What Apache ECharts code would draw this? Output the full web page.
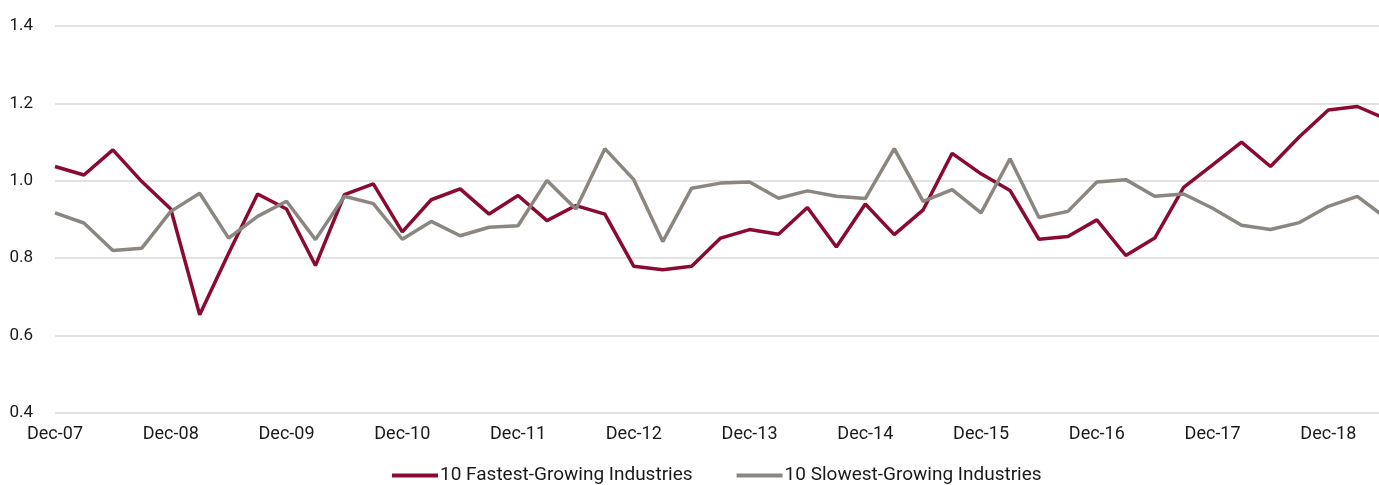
<!DOCTYPE html>
<html>
<head>
<meta charset="utf-8">
<script src="https://cdn.jsdelivr.net/npm/echarts@6/dist/echarts.min.js"></script>
<style>html,body{margin:0;padding:0;background:#fff}#c{width:1379px;height:485px}</style>
</head>
<body>
<div id="c"></div>
<script>
// Quarterly, starting Dec-07
var startYear = 7;
var fastest = [1.037,1.015,1.080,0.998,0.927,0.654,0.813,0.966,0.927,0.781,0.964,0.992,0.868,0.951,0.979,
  0.914,0.962,0.897,0.936,0.914,0.779,0.770,0.779,0.852,0.874,0.862,0.931,0.829,0.940,0.861,
  0.925,1.071,1.018,0.975,0.849,0.856,0.899,0.807,0.852,0.983,1.041,1.100,1.037,1.114,1.183,1.192,1.160];
var slowest = [0.917,0.891,0.820,0.826,0.921,0.968,0.852,0.908,0.947,0.848,0.960,0.941,0.849,0.895,0.858,
  0.880,0.884,1.001,0.927,1.083,1.003,0.843,0.981,0.994,0.997,0.955,0.974,0.960,0.954,1.083,
  0.947,0.977,0.917,1.057,0.905,0.921,0.997,1.003,0.960,0.966,0.929,0.885,0.874,0.892,0.934,0.960,0.903];
var seriesNames = ['10 Fastest-Growing Industries','10 Slowest-Growing Industries'];
var yTicks = [0.4,0.6,0.8,1.0,1.2,1.4];

function pairs(arr){ return arr.map(function(v,i){ return [i,v]; }); }
var font = 'Roboto';
var chart = echarts.init(document.getElementById('c'));
chart.setOption({
  animation:false,
  textStyle:{fontFamily:font},
  grid:{left:55,right:0,top:26,bottom:72},
  legend:{
    data:seriesNames, top:466, left:392, padding:0,
    icon:'rect', itemWidth:46, itemHeight:4, itemGap:44,
    textStyle:{fontFamily:font,fontSize:19,color:'#1a1a1a',padding:[0,0,0,-3]}
  },
  xAxis:{
    type:'value', min:0, max:45.75, interval:4,
    axisLine:{show:false}, axisTick:{show:false}, splitLine:{show:false},
    axisLabel:{
      fontFamily:font, fontSize:18, color:'#1a1a1a', margin:12, showMaxLabel:false,
      formatter:function(v){
        if (Math.abs(v - Math.round(v)) > 1e-6 || Math.round(v) % 4 !== 0) return '';
        var yr = startYear + Math.round(v)/4;
        return 'Dec-' + (yr < 10 ? '0' + yr : yr);
      }
    }
  },
  yAxis:{
    type:'value', min:yTicks[0], max:yTicks[yTicks.length-1], interval:0.2,
    axisLine:{show:false}, axisTick:{show:false},
    splitLine:{lineStyle:{color:'#d9d9d9',width:1.5}},
    axisLabel:{fontFamily:font,fontSize:17,color:'#1a1a1a',margin:22,
      formatter:function(v){return v.toFixed(1);}}
  },
  series:[
    {name:seriesNames[0],type:'line',data:pairs(fastest),showSymbol:false,symbol:'none',
      clip:true,lineStyle:{color:'#8b0a32',width:3.5},itemStyle:{color:'#8b0a32'}},
    {name:seriesNames[1],type:'line',data:pairs(slowest),showSymbol:false,symbol:'none',
      clip:true,lineStyle:{color:'#8b8680',width:3.5},itemStyle:{color:'#8b8680'}}
  ]
});
</script>
</body>
</html>
